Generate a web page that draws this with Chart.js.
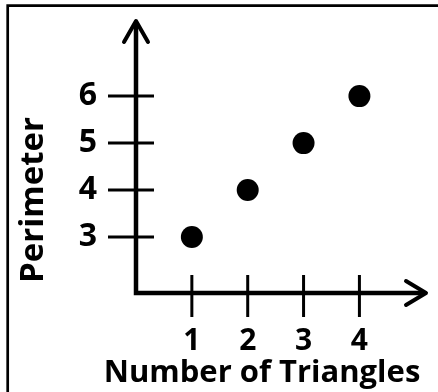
<!DOCTYPE html>
<html>
<head>
<meta charset="utf-8">
<script src="https://cdn.jsdelivr.net/npm/chart.js@4"></script>
<style>
html, body { margin: 0; padding: 0; background: #fff; }
canvas { display: block; }
</style>
</head>
<body>
<canvas id="graph" width="438" height="392"></canvas>
<script>
// data
const triangles = [1, 2, 3, 4];
const perimeter = [3, 4, 5, 6];
const xTicks = [1, 2, 3, 4];
const yTicks = [3, 4, 5, 6];
const xTitle = 'Number of Triangles';
const yTitle = 'Perimeter';

const points = triangles.map((t, i) => ({x: t, y: perimeter[i]}));

const FONT = '"Open Sans", sans-serif';

// no extra room for labels at the ends, the chart area is set by hand
function noScalePadding(scale) {
	scale.paddingTop = 0;
	scale.paddingBottom = 0;
	scale.paddingLeft = 0;
	scale.paddingRight = 0;
}

// hand drawn style axes: thick lines, arrows, crossing tick marks, frame
const axesPlugin = {
	id: 'axes',
	afterDraw: function(chart) {
		const ctx = chart.ctx;
		const xs = chart.scales.x, ys = chart.scales.y;
		const area = chart.chartArea;
		const ox = xs.getPixelForValue(0);
		const oy = area.bottom;

		ctx.save();
		ctx.strokeStyle = '#000';
		ctx.lineCap = 'butt';

		// frame (top + left only, the rest is cropped off)
		ctx.lineWidth = 2.7;
		ctx.beginPath();
		ctx.moveTo(7.7, 392);
		ctx.lineTo(7.7, 5.7);
		ctx.lineTo(438, 5.7);
		ctx.stroke();

		// tick marks crossing the axes
		ctx.lineWidth = 3;
		yTicks.forEach(v => {
			const py = ys.getPixelForValue(v);
			ctx.beginPath();
			ctx.moveTo(ox - 28, py);
			ctx.lineTo(ox + 18, py);
			ctx.stroke();
		});
		xTicks.forEach(v => {
			const px = xs.getPixelForValue(v);
			ctx.beginPath();
			ctx.moveTo(px, oy - 18);
			ctx.lineTo(px, oy + 24);
			ctx.stroke();
		});

		// axes
		ctx.lineWidth = 4.5;
		ctx.lineJoin = 'miter';
		ctx.beginPath();
		ctx.moveTo(ox, area.top + 2);
		ctx.lineTo(ox, oy);
		ctx.lineTo(area.right - 2, oy);
		ctx.stroke();

		// arrow heads
		ctx.lineWidth = 4;
		ctx.lineCap = 'round';
		ctx.lineJoin = 'round';
		ctx.beginPath();
		ctx.moveTo(ox - 12, area.top + 22);
		ctx.lineTo(ox, area.top + 1);
		ctx.lineTo(ox + 12, area.top + 22);
		ctx.stroke();
		ctx.beginPath();
		ctx.moveTo(area.right - 21, oy - 12);
		ctx.lineTo(area.right - 1, oy);
		ctx.lineTo(area.right - 21, oy + 12);
		ctx.stroke();

		// axis titles
		ctx.fillStyle = '#000';
		ctx.font = 'bold 31px ' + FONT;
		ctx.textAlign = 'center';
		ctx.textBaseline = 'alphabetic';
		ctx.fillText(xTitle, 262, 382);

		ctx.font = 'bold 33px ' + FONT;
		ctx.translate(43, 200);
		ctx.rotate(-Math.PI / 2);
		ctx.fillText(yTitle, 0, 0);
		ctx.restore();
	}
};

new Chart(document.getElementById('graph'), {
	type: 'scatter',
	data: {
		datasets: [{
			data: points,
			backgroundColor: '#000',
			borderWidth: 0,
			pointRadius: 11,
			pointHoverRadius: 11,
			clip: false
		}]
	},
	options: {
		responsive: false,
		animation: false,
		events: [],
		layout: {
			padding: {top: 20, right: 5, left: 0, bottom: 0}
		},
		plugins: {
			legend: {display: false},
			tooltip: {enabled: false}
		},
		scales: {
			x: {
				type: 'linear',
				min: 0,
				max: 5.21,
				grid: {display: false, drawTicks: false},
				border: {display: false},
				afterBuildTicks: function(scale) {
					scale.ticks = xTicks.map(v => ({value: v}));
				},
				afterFit: function(scale) {
					scale.height = 99;
					noScalePadding(scale);
				},
				ticks: {
					color: '#000',
					padding: 30,
					maxRotation: 0,
					font: {family: FONT, size: 30, weight: 'bold'}
				}
			},
			y: {
				type: 'linear',
				min: 1.81,
				max: 7.62,
				grid: {display: false, drawTicks: false},
				border: {display: false},
				afterBuildTicks: function(scale) {
					scale.ticks = yTicks.map(v => ({value: v}));
				},
				afterFit: function(scale) {
					scale.width = 136;
					noScalePadding(scale);
				},
				ticks: {
					color: '#000',
					padding: 39,
					font: {family: FONT, size: 32, weight: 'bold'}
				}
			}
		}
	},
	plugins: [axesPlugin]
});
</script>
</body>
</html>
